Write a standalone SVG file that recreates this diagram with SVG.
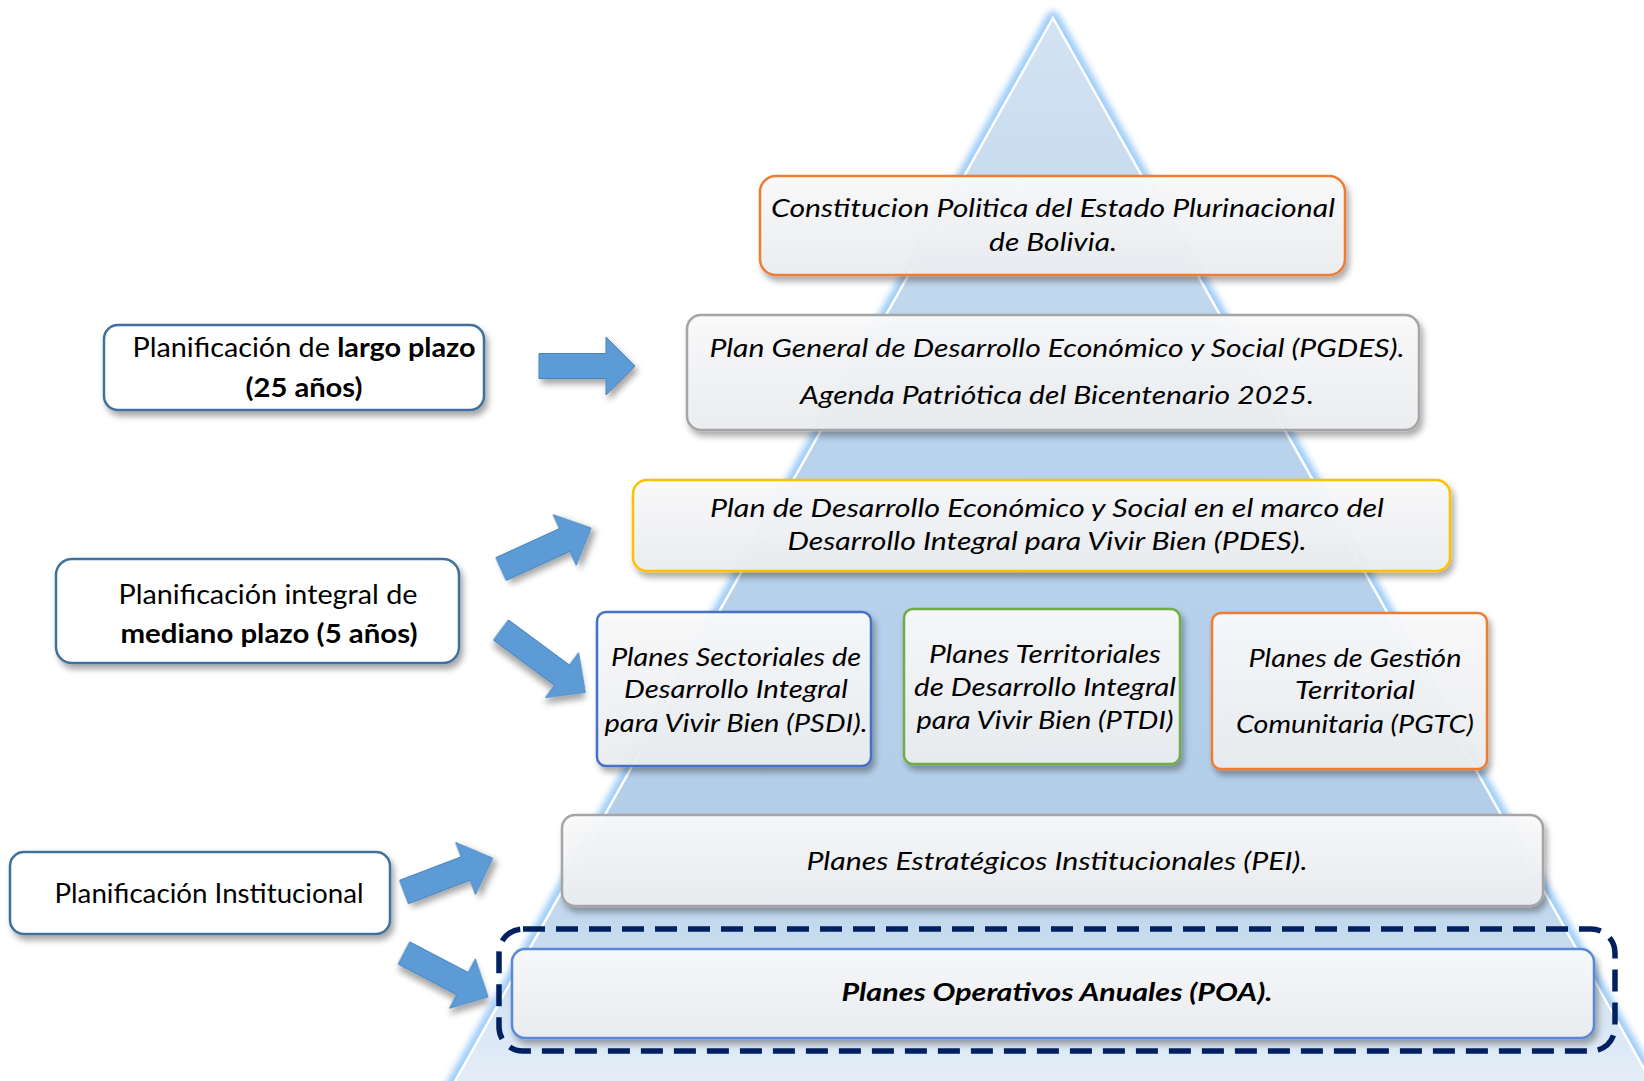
<svg xmlns="http://www.w3.org/2000/svg" width="1644" height="1081" viewBox="0 0 1644 1081">
<defs>
  <linearGradient id="triFill" x1="0" y1="0" x2="0" y2="1">
    <stop offset="0" stop-color="#d3e3f2"/>
    <stop offset="0.35" stop-color="#b9d3ec"/>
    <stop offset="0.75" stop-color="#b3cee9"/>
    <stop offset="1" stop-color="#e9f1f9"/>
  </linearGradient>
  <linearGradient id="boxFill" x1="0" y1="0" x2="0" y2="1">
    <stop offset="0" stop-color="#fbfbfc"/>
    <stop offset="1" stop-color="#eceef1"/>
  </linearGradient>
  <filter id="sh" x="-10%" y="-15%" width="125%" height="150%">
    <feDropShadow dx="3" dy="5" stdDeviation="3" flood-color="#000" flood-opacity="0.35"/>
  </filter>
  <filter id="glow" x="-5%" y="-5%" width="110%" height="110%">
    <feGaussianBlur stdDeviation="3"/>
  </filter>
  <style>
    .box{fill:url(#boxFill);fill-opacity:0.93;stroke-width:2.5;filter:url(#sh)}
    .lbox{fill:#fff;stroke:#41719c;stroke-width:2.5;filter:url(#sh)}
    .orange{stroke:#ed7d31}
    .gray{stroke:#a5a5a5}
    .yellow{stroke:#ffc000}
    .blue{stroke:#4472c4}
    .green{stroke:#70ad47}
    .poa{stroke:#5a87d6}
    .t{font-family:Lato,"Liberation Sans",sans-serif;font-style:italic;font-size:25px;fill:#000;text-anchor:middle}
    .lt{font-family:Lato,"Liberation Sans",sans-serif;font-size:27px;fill:#000;text-anchor:middle}
    .b{font-weight:bold}
    .arrow{fill:#5b9bd5;stroke:#4a86bf;stroke-width:1;filter:url(#sh)}
  </style>
</defs>

<g id="pyramid">
  <polygon points="1053,18 440,1108 1666,1108" fill="none" stroke="#9fcdf7" stroke-width="14" stroke-linejoin="round" filter="url(#glow)"/>
  <polygon points="1053,18 440,1108 1666,1108" fill="url(#triFill)" stroke="#ffffff" stroke-width="2.5"/>
</g>

<g id="connectors">
  <path class="arrow" transform="translate(539,366)" d="M0,-12.5 L67,-12.5 L67,-29 L96,0 L67,29 L67,12.5 L0,12.5 Z"/>
  <path class="arrow" transform="translate(501,569) rotate(-24.5)" d="M0,-12.5 L70,-12.5 L70,-28 L99,0 L70,28 L70,12.5 L0,12.5 Z"/>
  <path class="arrow" transform="translate(501,630) rotate(36.5)" d="M0,-12.5 L76,-12.5 L76,-28 L105,0 L76,28 L76,12.5 L0,12.5 Z"/>
  <path class="arrow" transform="translate(404,892) rotate(-20.9)" d="M0,-12.5 L66,-12.5 L66,-28 L95,0 L66,28 L66,12.5 L0,12.5 Z"/>
  <path class="arrow" transform="translate(404,953) rotate(27.6)" d="M0,-12.5 L66,-12.5 L66,-28 L95,0 L66,28 L66,12.5 L0,12.5 Z"/>
</g>

<g id="constitucion">
  <rect class="box orange" x="760" y="176" width="585" height="99" rx="16"/>
  <text class="t" x="1053" y="217" textLength="564" lengthAdjust="spacingAndGlyphs">Constitucion Politica del Estado Plurinacional</text>
  <text class="t" x="1053" y="251" textLength="128" lengthAdjust="spacingAndGlyphs">de Bolivia.</text>
</g>

<g id="pgdes">
  <rect class="box gray" x="687" y="315" width="732" height="115" rx="14"/>
  <text class="t" x="1057" y="357" textLength="695" lengthAdjust="spacingAndGlyphs">Plan General de Desarrollo Económico y Social (PGDES).</text>
  <text class="t" x="1057" y="404" textLength="514" lengthAdjust="spacingAndGlyphs">Agenda Patriótica del Bicentenario 2025.</text>
</g>

<g id="pdes">
  <rect class="box yellow" x="633" y="480" width="817" height="91" rx="14"/>
  <text class="t" x="1047" y="517" textLength="674" lengthAdjust="spacingAndGlyphs">Plan de Desarrollo Económico y Social en el marco del</text>
  <text class="t" x="1047" y="550" textLength="519" lengthAdjust="spacingAndGlyphs">Desarrollo Integral para Vivir Bien (PDES).</text>
</g>

<g id="psdi">
  <rect class="box blue" x="597" y="612" width="274" height="154" rx="9"/>
  <text class="t" x="736" y="666" textLength="250" lengthAdjust="spacingAndGlyphs">Planes Sectoriales de</text>
  <text class="t" x="736" y="698" textLength="224" lengthAdjust="spacingAndGlyphs">Desarrollo Integral</text>
  <text class="t" x="736" y="732" textLength="263" lengthAdjust="spacingAndGlyphs">para Vivir Bien (PSDI).</text>
</g>

<g id="ptdi">
  <rect class="box green" x="904" y="609" width="276" height="155" rx="9"/>
  <text class="t" x="1045" y="663" textLength="232" lengthAdjust="spacingAndGlyphs">Planes Territoriales</text>
  <text class="t" x="1045" y="696" textLength="262" lengthAdjust="spacingAndGlyphs">de Desarrollo Integral</text>
  <text class="t" x="1045" y="729" textLength="257" lengthAdjust="spacingAndGlyphs">para Vivir Bien (PTDI)</text>
</g>

<g id="pgtc">
  <rect class="box orange" x="1212" y="613" width="275" height="156" rx="9"/>
  <text class="t" x="1355" y="667" textLength="213" lengthAdjust="spacingAndGlyphs">Planes de Gestión</text>
  <text class="t" x="1355" y="699" textLength="120" lengthAdjust="spacingAndGlyphs">Territorial</text>
  <text class="t" x="1355" y="733" textLength="238" lengthAdjust="spacingAndGlyphs">Comunitaria (PGTC)</text>
</g>

<g id="pei">
  <rect class="box gray" x="562" y="815" width="981" height="91" rx="13"/>
  <text class="t" x="1057" y="870" textLength="501" lengthAdjust="spacingAndGlyphs">Planes Estratégicos Institucionales (PEI).</text>
</g>

<g id="poa">
  <rect class="box poa" x="512" y="949" width="1082" height="89" rx="13"/>
  <text class="t b" x="1057" y="1001" textLength="431" lengthAdjust="spacingAndGlyphs">Planes Operativos Anuales (POA).</text>
  <rect x="499" y="929" width="1116" height="122" rx="24" fill="none" stroke="#002060" stroke-width="5.5" stroke-dasharray="22 11"/>
</g>

<g id="largo-plazo">
  <rect class="lbox" x="104" y="325" width="380" height="85" rx="14"/>
  <text class="lt" x="304" y="357" textLength="343" lengthAdjust="spacingAndGlyphs">Planificación de <tspan class="b">largo plazo</tspan></text>
  <text class="lt b" x="304" y="397" textLength="117" lengthAdjust="spacingAndGlyphs">(25 años)</text>
</g>

<g id="mediano-plazo">
  <rect class="lbox" x="56" y="559" width="403" height="104" rx="16"/>
  <text class="lt" x="268" y="604" textLength="299" lengthAdjust="spacingAndGlyphs">Planificación integral de</text>
  <text class="lt b" x="269" y="643" textLength="297" lengthAdjust="spacingAndGlyphs">mediano plazo (5 años)</text>
</g>

<g id="institucional">
  <rect class="lbox" x="10" y="852" width="380" height="82" rx="14"/>
  <text class="lt" x="209" y="903" textLength="309" lengthAdjust="spacingAndGlyphs">Planificación Institucional</text>
</g>
</svg>
